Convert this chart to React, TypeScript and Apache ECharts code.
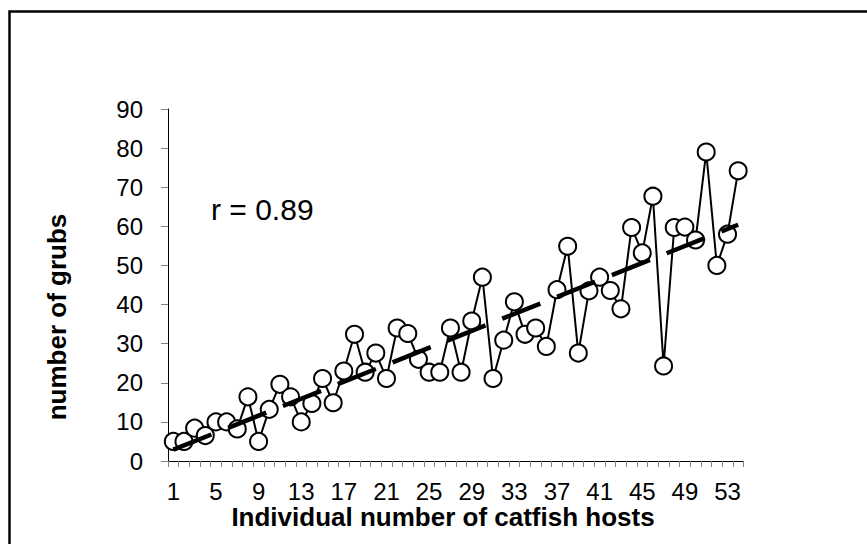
import React, { useEffect, useRef } from "react";
import * as echarts from "echarts";

const hosts: string[] = Array.from({ length: 54 }, (_, i) => String(i + 1));

const grubs: number[] = [
  5, 5, 8.4, 6.5, 10, 10, 8.2, 16.4, 5, 13.2,
  19.6, 16.4, 10, 14.7, 21.1, 14.9, 23, 32.4, 22.7, 27.6,
  21.1, 34, 32.6, 26, 22.7, 22.7, 34, 22.7, 35.8, 47,
  21.1, 30.9, 40.7, 32.4, 34, 29.3, 43.8, 54.9, 27.6, 43.5,
  47, 43.6, 38.9, 59.7, 53.2, 67.7, 24.3, 59.7, 59.8, 56.5,
  79, 50, 58, 74.2,
];

// Linear trend line end values at host 1 and host 54
const trendStart = 2.9;
const trendEnd = 60.4;

const yTicks = { min: 0, max: 90, interval: 10 };

const rLabel = "r = 0.89";
const xTitle = "Individual number of catfish hosts";
const yTitle = "number of grubs";

const FONT = "'Liberation Sans', Arial, sans-serif";

export default function App() {
  const ref = useRef<HTMLDivElement>(null);

  useEffect(() => {
    if (!ref.current) return;
    const chart = echarts.init(ref.current, undefined, { renderer: "svg" });

    const trendData: (number | null)[] = hosts.map((_, i) =>
      i === 0 ? trendStart : i === hosts.length - 1 ? trendEnd : null
    );

    chart.setOption({
      animation: false,
      backgroundColor: "#ffffff",
      grid: { left: 168, right: 123.5, top: 109, bottom: 83, containLabel: false },
      xAxis: {
        type: "category",
        data: hosts,
        boundaryGap: true,
        axisLine: { show: true, lineStyle: { color: "#000", width: 1 } },
        axisTick: {
          show: true,
          interval: 0,
          length: 6,
          lineStyle: { color: "#808080", width: 1 },
        },
        axisLabel: {
          interval: 3,
          margin: 18,
          color: "#000",
          fontSize: 24,
          fontFamily: FONT,
        },
        splitLine: { show: false },
      },
      yAxis: {
        type: "value",
        min: yTicks.min,
        max: yTicks.max,
        interval: yTicks.interval,
        axisLine: { show: true, lineStyle: { color: "#000", width: 1 } },
        axisTick: { show: true, length: 7, lineStyle: { color: "#808080", width: 1 } },
        axisLabel: {
          margin: 25,
          color: "#000",
          fontSize: 24,
          fontFamily: FONT,
        },
        splitLine: { show: false },
      },
      series: [
        {
          type: "line",
          data: grubs,
          symbol: "circle",
          symbolSize: 17,
          showAllSymbol: true,
          lineStyle: { color: "#000", width: 2 },
          itemStyle: { color: "#fff", borderColor: "#000", borderWidth: 2 },
          z: 2,
        },
        {
          type: "line",
          data: trendData,
          connectNulls: true,
          symbol: "none",
          lineStyle: { color: "#000", width: 4.5, type: [41, 18] },
          z: 5,
        },
      ],
      graphic: [
        {
          type: "rect",
          shape: { x: 9.5, y: 11.5, width: 1000, height: 1000 },
          style: { fill: "none", stroke: "#000", lineWidth: 2.5 },
          silent: true,
          z: 100,
        },
        {
          type: "text",
          x: 211,
          y: 209,
          style: {
            text: rLabel,
            fontSize: 30,
            fontFamily: FONT,
            fill: "#000",
            align: "left",
            verticalAlign: "middle",
          },
        },
        {
          type: "text",
          x: 443,
          y: 517,
          style: {
            text: xTitle,
            fontSize: 26,
            fontWeight: "bold",
            fontFamily: FONT,
            fill: "#000",
            align: "center",
            verticalAlign: "middle",
          },
        },
        {
          type: "text",
          x: 57,
          y: 317,
          rotation: Math.PI / 2,
          style: {
            text: yTitle,
            fontSize: 26,
            fontWeight: "bold",
            fontFamily: FONT,
            fill: "#000",
            align: "center",
            verticalAlign: "middle",
          },
        },
      ],
    });

    return () => chart.dispose();
  }, []);

  return (
    <div
      ref={ref}
      style={{ position: "fixed", left: 0, top: 0, width: 867, height: 544, background: "#fff" }}
    />
  );
}
